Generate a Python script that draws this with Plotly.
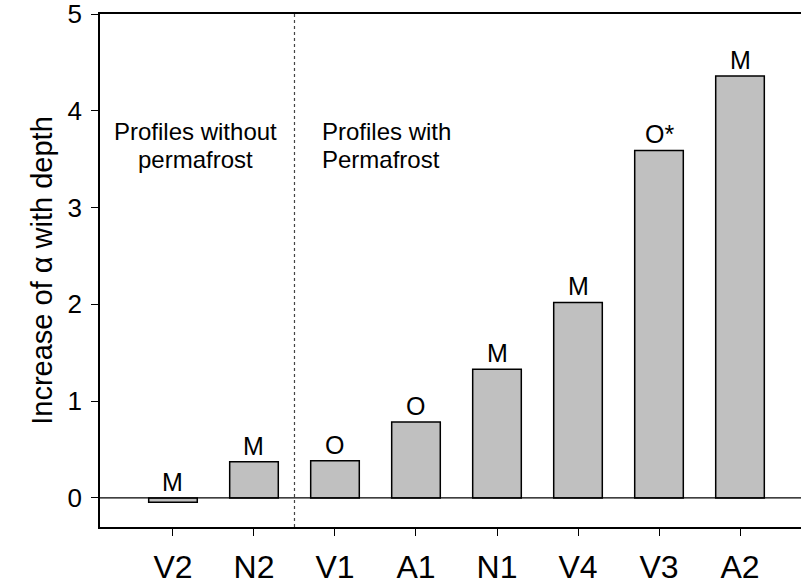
import plotly.graph_objects as go

categories = ["V2", "N2", "V1", "A1", "N1", "V4", "V3", "A2"]
values = [-0.045, 0.375, 0.385, 0.785, 1.33, 2.02, 3.59, 4.36]
bar_labels = ["M", "M", "O", "O", "M", "M", "O*", "M"]
y_ticks = [0, 1, 2, 3, 4, 5]

x_idx = list(range(len(categories)))
font = "Liberation Sans, Arial, sans-serif"

fig = go.Figure()
fig.add_trace(go.Bar(
    x=x_idx, y=values, width=0.6,
    marker=dict(color="#c0c0c0", line=dict(color="#000000", width=1.5)),
    textposition="none", hoverinfo="skip",
))
for i, (v, lab) in enumerate(zip(values, bar_labels)):
    fig.add_annotation(x=i, y=max(v, 0), text=lab, showarrow=False,
                       yanchor="bottom", yshift=0,
                       font=dict(size=25, color="#000", family=font))

fig.add_shape(type="line", x0=1.5, x1=1.5, y0=0, y1=1, yref="paper",
              line=dict(color="#444", width=1.2, dash="dot"))
fig.add_shape(type="line", x0=0, x1=1, xref="paper", y0=0, y1=0,
              line=dict(color="#000", width=1.2))

ann_font = dict(size=24, color="#000", family=font)
fig.add_annotation(x=0.28, y=3.79, text="Profiles without", showarrow=False,
                   xanchor="center", yanchor="middle", font=ann_font)
fig.add_annotation(x=0.28, y=3.50, text="permafrost", showarrow=False,
                   xanchor="center", yanchor="middle", font=ann_font)
fig.add_annotation(x=1.815, y=3.79, text="Profiles with", showarrow=False,
                   xanchor="left", yanchor="middle", font=ann_font)
fig.add_annotation(x=1.815, y=3.50, text="Permafrost", showarrow=False,
                   xanchor="left", yanchor="middle", font=ann_font)

fig.update_layout(
    width=801, height=588,
    margin=dict(l=100, r=0, t=14, b=61),
    paper_bgcolor="white", plot_bgcolor="white",
    showlegend=False,
    xaxis=dict(
        range=[-0.901, 7.753], tickvals=x_idx, ticktext=categories,
        showline=True, linecolor="#000", linewidth=1.5, mirror=True,
        ticks="outside", ticklen=7, tickcolor="#000",
        tickfont=dict(size=32, color="#000", family=font),
        ticklabelstandoff=4,
        showgrid=False, zeroline=False,
    ),
    yaxis=dict(
        range=[-0.30, 5], tickvals=y_ticks,
        showline=True, linecolor="#000", linewidth=1.5,
        ticks="outside", ticklen=7, tickcolor="#000",
        tickfont=dict(size=26, color="#000", family=font),
        ticklabelstandoff=4, ticklabeloverflow="allow",
        showgrid=False, zeroline=False,
        title=dict(text="Increase of α with depth",
                   font=dict(size=29, color="#000", family=font), standoff=6),
    ),
)

fig.write_html("out.html", config={"displayModeBar": False},
               post_script="document.body.style.margin='0';document.body.style.overflow='hidden';")
